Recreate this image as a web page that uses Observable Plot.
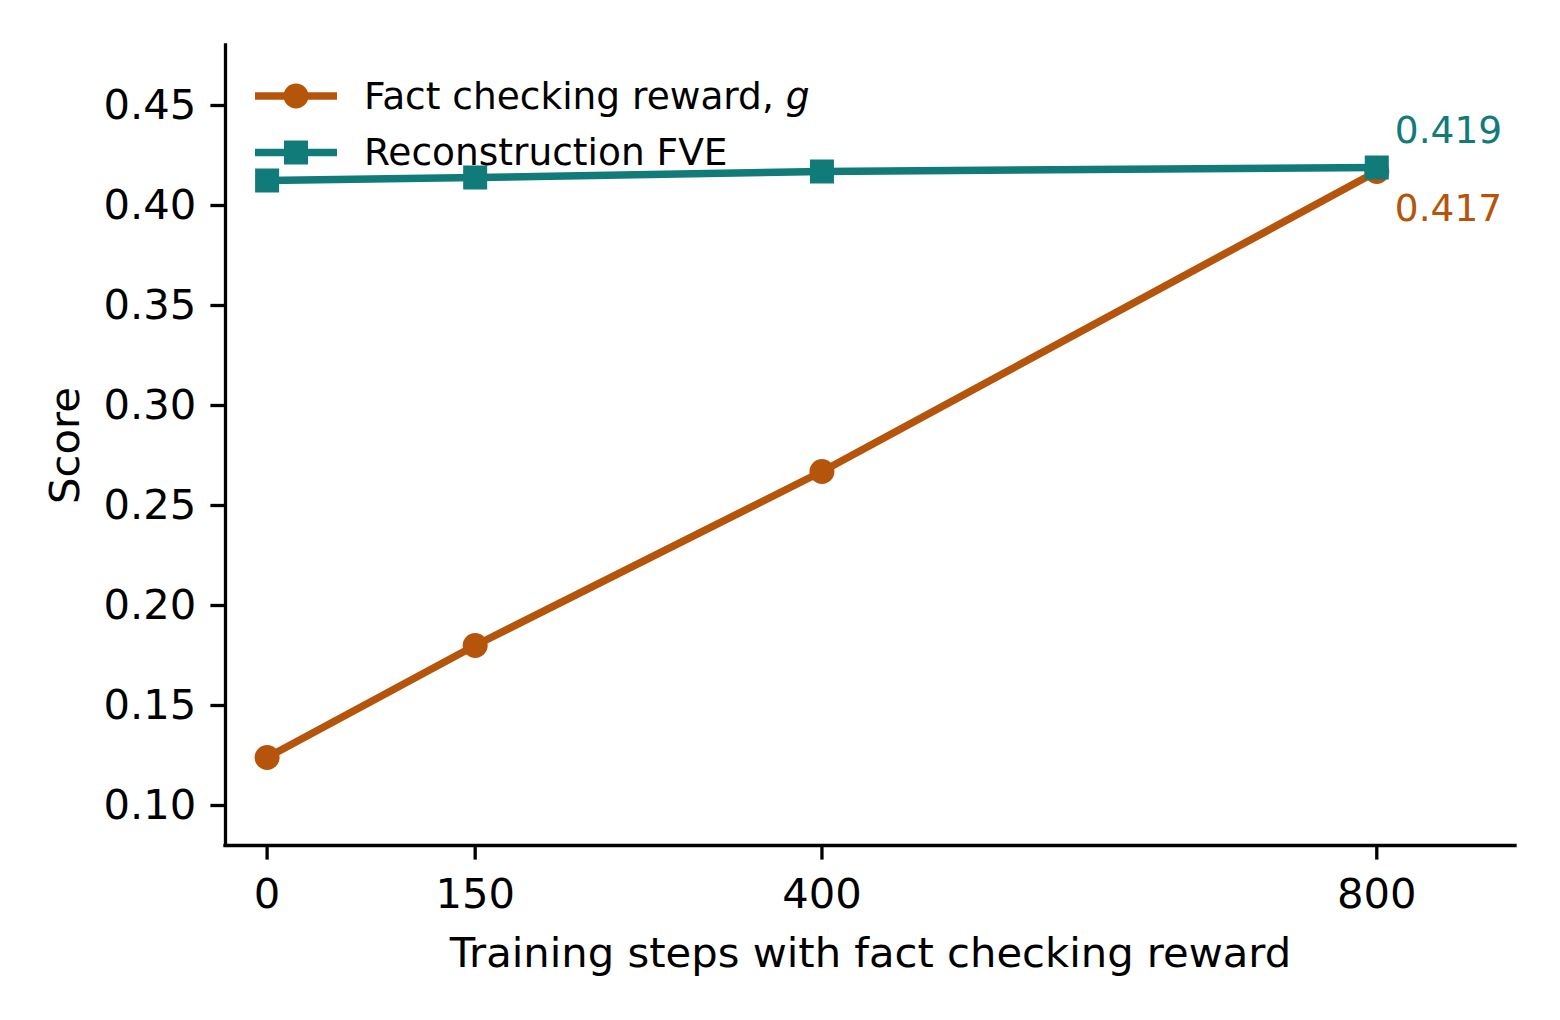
<!DOCTYPE html>
<html>
<head>
<meta charset="utf-8">
<script src="https://cdn.jsdelivr.net/npm/d3@7"></script>
<script src="https://cdn.jsdelivr.net/npm/@observablehq/plot@0.6"></script>
<style>
  html, body { margin: 0; padding: 0; background: #fff; }
  svg { display: block; }
</style>
</head>
<body>
<div id="chart"></div>
<script>
// ---- data ----
const steps = [0, 150, 400, 800];
const factReward = [0.124, 0.180, 0.267, 0.417];
const reconFVE = [0.4125, 0.414, 0.417, 0.419];
const xTicks = [0, 150, 400, 800];
const yTicks = [0.10, 0.15, 0.20, 0.25, 0.30, 0.35, 0.40, 0.45];
const legendLabels = [["Fact checking reward, ", "g"], ["Reconstruction FVE", ""]];
const colors = ["#b5540b", "#107b78"];
const xLabel = "Training steps with fact checking reward";
const yLabel = "Score";
const xDomain = [-30, 900];
const yDomain = [0.08, 0.48];

const factData = steps.map((s, i) => ({step: s, value: factReward[i]}));
const fveData = steps.map((s, i) => ({step: s, value: reconFVE[i]}));
const factLast = [factData[factData.length - 1]];
const fveLast = [fveData[fveData.length - 1]];

const FONT = "DejaVu Sans";
const TICK_FS = 41.7;
const SMALL_FS = 37.5;

const plot = Plot.plot({
  width: 1560,
  height: 1020,
  marginLeft: 225,
  marginRight: 45,
  marginTop: 45,
  marginBottom: 175,
  style: {fontFamily: FONT, background: "#fff", color: "#000", overflow: "visible"},
  x: {domain: xDomain},
  y: {domain: yDomain},
  marks: [
    Plot.axisX({ticks: xTicks, tickSize: 14.6, tickPadding: 18, strokeWidth: 3.3, fontSize: TICK_FS, label: null, tickFormat: d => String(d)}),
    Plot.axisY({ticks: yTicks, tickSize: 14.6, tickPadding: 14.6, strokeWidth: 3.3, fontSize: TICK_FS, label: null, tickFormat: d3.format(".2f")}),
    Plot.ruleX([xDomain[0]], {stroke: "#000", strokeWidth: 3.3, strokeLinecap: "square"}),
    Plot.ruleY([yDomain[0]], {stroke: "#000", strokeWidth: 3.3, strokeLinecap: "square"}),
    Plot.line(factData, {x: "step", y: "value", stroke: colors[0], strokeWidth: 7.5}),
    Plot.dot(factData, {x: "step", y: "value", fill: colors[0], stroke: null, r: 12.5, symbol: "circle"}),
    Plot.line(fveData, {x: "step", y: "value", stroke: colors[1], strokeWidth: 7.5}),
    Plot.dot(fveData, {x: "step", y: "value", fill: colors[1], stroke: null, r: 13.54, symbol: "square"}),
    Plot.text(fveLast, {x: "step", y: "value", text: d => d.value.toFixed(3), fill: colors[1], dx: 18, dy: -25, textAnchor: "start", lineAnchor: "bottom", fontSize: SMALL_FS}),
    Plot.text(factLast, {x: "step", y: "value", text: d => d.value.toFixed(3), fill: colors[0], dx: 18, dy: 49, textAnchor: "start", lineAnchor: "bottom", fontSize: SMALL_FS}),
    Plot.text([xLabel], {frameAnchor: "bottom", text: d => d, dy: 121.7, lineAnchor: "bottom", textAnchor: "middle", fontSize: TICK_FS, fill: "#000"}),
    Plot.text([yLabel], {frameAnchor: "left", text: d => d, rotate: -90, dx: -147, lineAnchor: "bottom", textAnchor: "middle", fontSize: TICK_FS, fill: "#000"})
  ]
});

document.getElementById("chart").appendChild(plot);

// ---- legend (inside the axes, top-left) ----
const svg = d3.select(plot);
const lg = svg.append("g").attr("font-family", FONT).attr("font-size", SMALL_FS).attr("text-anchor", "start");
const rowY = [96, 152.5];
legendLabels.forEach((lab, i) => {
  const y = rowY[i];
  lg.append("line").attr("x1", 255).attr("x2", 337).attr("y1", y).attr("y2", y)
    .attr("stroke", colors[i]).attr("stroke-width", 7.5);
  if (i === 0) {
    lg.append("circle").attr("cx", 296).attr("cy", y).attr("r", 12.5).attr("fill", colors[i]);
  } else {
    lg.append("rect").attr("x", 296 - 12).attr("y", y - 12).attr("width", 24).attr("height", 24).attr("fill", colors[i]);
  }
  const t = lg.append("text").attr("x", 364).attr("y", y + 12.5).attr("fill", "#000").attr("text-anchor", "start");
  t.append("tspan").text(lab[0]);
  if (lab[1]) t.append("tspan").attr("font-style", "italic").text(lab[1]);
});
</script>
</body>
</html>
